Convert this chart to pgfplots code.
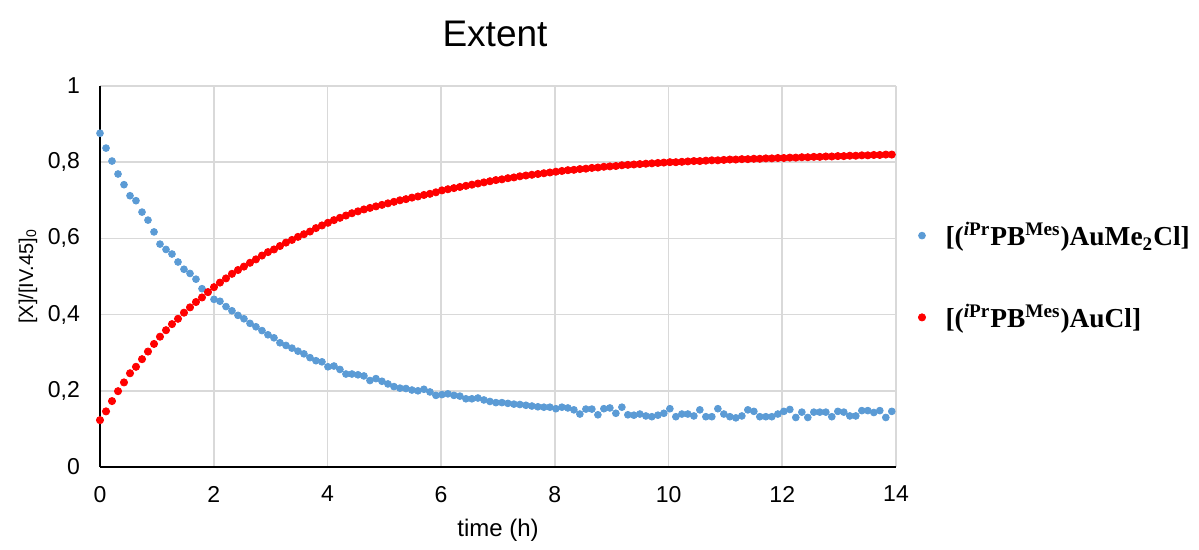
\documentclass[border=0pt]{standalone}
\usepackage{fontspec}
\setmainfont{Liberation Sans}
\newfontfamily\tnr{Liberation Serif}
\usepackage{pgfplots}
\usepackage{pgfplotstable}
\pgfplotsset{compat=1.18}

\definecolor{exblue}{HTML}{5B9BD5}
\definecolor{exred}{HTML}{FF0000}
\definecolor{gridgray}{HTML}{D9D9D9}

% time (h), [(iPrPB)AuMe2Cl], [(iPrPB)AuCl]
\pgfplotstableread{
t      me2cl  aucl
0.000  0.876  0.123
0.106  0.837  0.146
0.211  0.803  0.173
0.317  0.769  0.199
0.422  0.741  0.222
0.528  0.712  0.246
0.633  0.699  0.263
0.739  0.669  0.283
0.844  0.648  0.303
0.950  0.617  0.323
1.055  0.585  0.342
1.161  0.571  0.359
1.266  0.559  0.375
1.372  0.538  0.389
1.477  0.519  0.405
1.583  0.508  0.419
1.688  0.493  0.433
1.794  0.468  0.445
1.899  0.459  0.459
2.005  0.440  0.472
2.110  0.435  0.484
2.216  0.421  0.495
2.321  0.410  0.507
2.427  0.398  0.517
2.532  0.389  0.526
2.638  0.377  0.536
2.743  0.368  0.545
2.849  0.358  0.555
2.954  0.347  0.564
3.060  0.339  0.571
3.165  0.326  0.580
3.271  0.319  0.589
3.376  0.312  0.596
3.482  0.304  0.604
3.587  0.297  0.611
3.693  0.287  0.618
3.798  0.279  0.627
3.904  0.276  0.634
4.009  0.263  0.641
4.115  0.265  0.648
4.220  0.256  0.654
4.326  0.244  0.660
4.431  0.244  0.666
4.537  0.242  0.671
4.642  0.239  0.676
4.748  0.227  0.680
4.853  0.232  0.684
4.959  0.225  0.688
5.064  0.218  0.692
5.170  0.211  0.696
5.275  0.207  0.700
5.381  0.206  0.703
5.486  0.202  0.707
5.592  0.200  0.710
5.697  0.204  0.714
5.803  0.197  0.717
5.908  0.188  0.721
6.014  0.190  0.726
6.119  0.192  0.729
6.225  0.188  0.732
6.330  0.186  0.735
6.436  0.179  0.738
6.541  0.179  0.741
6.647  0.181  0.744
6.752  0.176  0.747
6.858  0.172  0.750
6.963  0.169  0.753
7.069  0.169  0.755
7.174  0.167  0.758
7.280  0.165  0.760
7.385  0.164  0.763
7.491  0.162  0.765
7.596  0.160  0.767
7.702  0.158  0.769
7.807  0.157  0.771
7.913  0.157  0.773
8.018  0.153  0.775
8.124  0.157  0.777
8.229  0.155  0.779
8.335  0.150  0.780
8.440  0.139  0.782
8.546  0.152  0.783
8.651  0.152  0.785
8.757  0.137  0.786
8.862  0.153  0.788
8.968  0.155  0.789
9.073  0.141  0.790
9.179  0.157  0.792
9.284  0.137  0.793
9.390  0.136  0.794
9.495  0.139  0.795
9.601  0.134  0.796
9.706  0.132  0.797
9.812  0.136  0.798
9.917  0.141  0.799
10.023 0.153  0.800
10.128 0.132  0.800
10.234 0.139  0.801
10.339 0.139  0.802
10.445 0.134  0.803
10.550 0.150  0.803
10.656 0.132  0.804
10.761 0.132  0.805
10.867 0.153  0.805
10.972 0.139  0.806
11.078 0.132  0.807
11.183 0.129  0.807
11.289 0.134  0.808
11.394 0.150  0.808
11.500 0.146  0.809
11.605 0.132  0.809
11.711 0.132  0.810
11.816 0.132  0.810
11.922 0.139  0.811
12.027 0.146  0.811
12.133 0.151  0.812
12.238 0.130  0.812
12.344 0.144  0.813
12.449 0.130  0.813
12.555 0.144  0.814
12.660 0.144  0.814
12.766 0.144  0.815
12.871 0.132  0.815
12.977 0.146  0.816
13.082 0.144  0.816
13.188 0.134  0.817
13.293 0.134  0.817
13.399 0.148  0.818
13.504 0.148  0.818
13.610 0.143  0.819
13.715 0.148  0.819
13.821 0.130  0.820
13.926 0.146  0.820
}\extentdata

\begin{document}
\begin{tikzpicture}
\begin{axis}[
    scale only axis,
    width=398pt, height=190.5pt,
    xmin=0, xmax=14, ymin=0, ymax=1,
    xtick={0,2,...,14},
    ytick={0,0.2,...,1},
    grid=major,
    major grid style={gridgray, line width=0.8pt},
    axis x line=bottom, axis y line=left,
    axis line style={-, black, line width=0.9pt},
    major tick length=0pt,
    clip=false,
    /pgf/number format/use comma,
    /pgf/number format/assume math mode=true,
    tick label style={font=\fontsize{11.5}{13}\selectfont},
    xticklabel style={yshift=-6pt},
    yticklabel style={xshift=-6.5pt},
    xlabel={time (h)},
    ylabel={[X]/[IV.45]\textsubscript{0}},
    xlabel style={font=\fontsize{12}{14}\selectfont, yshift=-1.5pt},
    ylabel style={font=\fontsize{10}{12}\selectfont, yshift=-1.5pt},
    title={Extent},
    title style={font=\fontsize{18.5}{22}\selectfont, at={(0.5,1)}, anchor=center, yshift=20pt, xshift=-1.5pt},
    legend style={at={(1,0.5)}, anchor=west, xshift=8pt, draw=none, fill=none,
        font=\tnr\bfseries\fontsize{13.7}{16}\selectfont, row sep=23.5pt,
        /tikz/every odd column/.append style={column sep=8pt}},
    legend cell align=left,
    legend image code/.code={\draw[#1] plot coordinates {(0.3cm,0cm)};},
]
\addplot[only marks, mark=*, mark size=1.7pt, color=exblue] table[x=t, y=me2cl] {\extentdata};
\addlegendentry{[(\textsuperscript{\textit{i}Pr}PB\textsuperscript{Mes})AuMe\textsubscript{2}Cl]}
\addplot[only marks, mark=*, mark size=1.8pt, color=exred] table[x=t, y=aucl] {\extentdata};
\addlegendentry{[(\textsuperscript{\textit{i}Pr}PB\textsuperscript{Mes})AuCl]}
\end{axis}
\pgfresetboundingbox
\path[use as bounding box] (-50pt,-41.5pt) rectangle (549.5pt,233.5pt);
\end{tikzpicture}
\end{document}
